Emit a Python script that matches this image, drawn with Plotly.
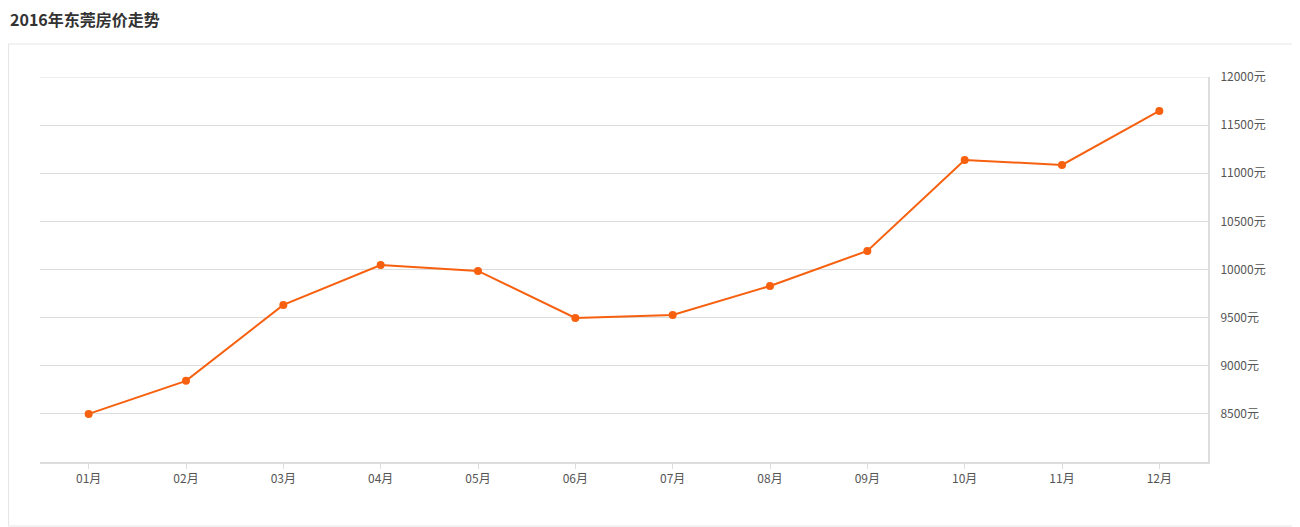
import plotly.graph_objects as go

months = ["01月","02月","03月","04月","05月","06月","07月","08月","09月","10月","11月","12月"]
prices = [8500, 8843, 9632, 10047, 9985, 9497, 9528, 9829, 10193, 11138, 11086, 11647]
ytick_vals = [8500, 9000, 9500, 10000, 10500, 11000, 11500, 12000]
ytick_text = [f"{v}元" for v in ytick_vals]

OFF = 8  # page body margin
W, H = 1300 - OFF, 527 - OFF
L, R, T, B = 40 - OFF, 92, 77 - OFF, 65
pw, ph = W - L - R, H - T - B
def px(x): return (x - OFF - L) / pw
def py(y): return (H - B - (y - OFF)) / ph

fig = go.Figure(go.Scatter(
    x=months, y=prices, mode="lines+markers",
    line=dict(color="#f7600e", width=2),
    marker=dict(color="#f7600e", size=8),
    hoverinfo="x+y", cliponaxis=False))

fig.update_layout(
    width=W, height=H, margin=dict(l=L, r=R, t=T, b=B),
    paper_bgcolor="white", plot_bgcolor="white", showlegend=False,
    font=dict(family="Noto Sans CJK SC", color="#555", size=12),
    xaxis=dict(type="category", range=[-0.5, 11.5], showgrid=False,
               showline=True, linecolor="#ddd", linewidth=2,
               ticks="outside", tickcolor="#ddd", ticklen=5, tickfont=dict(size=12)),
    yaxis=dict(side="right", range=[8000, 12000], tickvals=ytick_vals, ticktext=ytick_text,
               showgrid=True, gridcolor="#ddd", gridwidth=1, zeroline=False,
               showline=True, linecolor="#ddd", linewidth=2, ticks="",
               ticklabelstandoff=8, tickfont=dict(size=12)),
    shapes=[dict(type="rect", xref="paper", yref="paper",
                 x0=px(8.5), x1=px(1299), y0=py(526), y1=py(44),
                 line=dict(color="#e6e6e6", width=1), layer="below"),
            dict(type="line", xref="paper", yref="y", x0=0, x1=1, y0=12000, y1=12000,
                 line=dict(color="#ddd", width=1), layer="below")],
    annotations=[dict(text="<b>2016年东莞房价走势</b>", xref="paper", yref="paper",
                      x=px(8), y=py(19), xanchor="left", yanchor="middle",
                      showarrow=False, font=dict(size=16, color="#333"))],
)
fig.write_html("out.html")
